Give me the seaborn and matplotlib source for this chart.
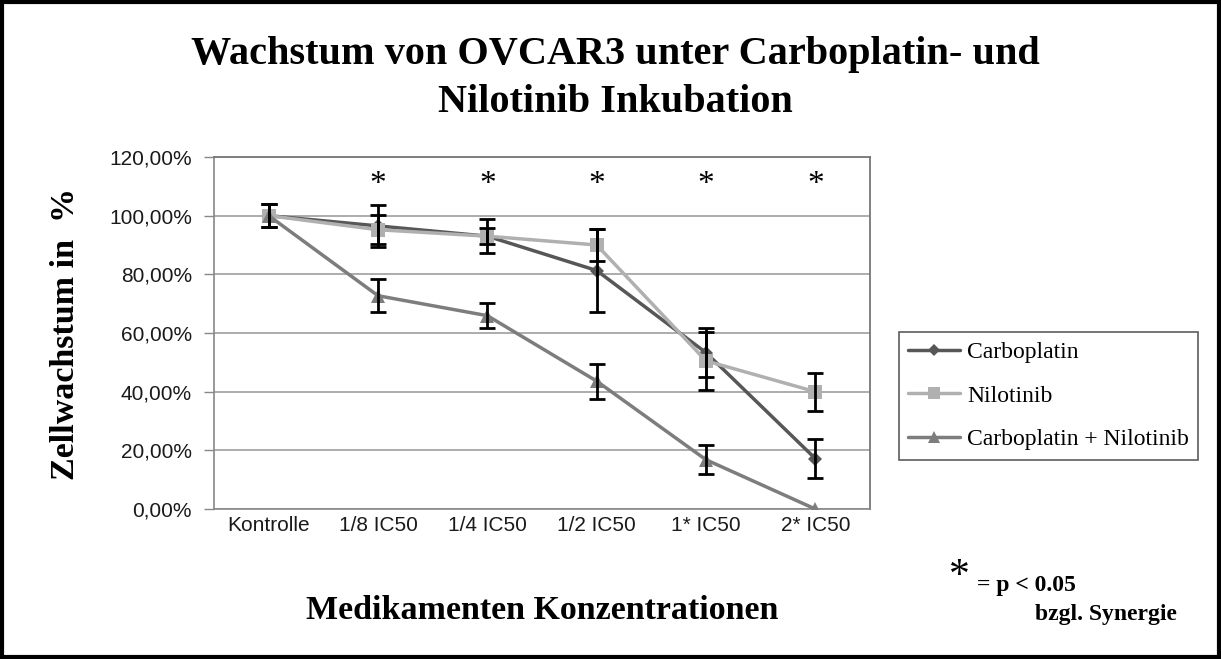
import numpy as np
import pandas as pd
import matplotlib
matplotlib.use("Agg")
import matplotlib.pyplot as plt
import seaborn as sns
from matplotlib.patches import Rectangle

categories = ["Kontrolle", "1/8 IC50", "1/4 IC50", "1/2 IC50", "1* IC50", "2* IC50"]
carbo = [100.0, 96.5, 93.0, 81.3, 53.3, 17.2]
carbo_err = [4.0, 7.2, 5.7, 14.0, 8.4, 6.5]
nilo = [100.0, 95.2, 93.0, 90.0, 50.5, 40.0]
nilo_err = [4.0, 5.0, 2.8, 5.5, 10.0, 6.5]
combo = [100.0, 72.7, 65.9, 43.6, 16.8, 0.0]
combo_err = [4.0, 5.7, 4.3, 6.0, 5.0, 0.0]
series_names = ["Carboplatin", "Nilotinib", "Carboplatin + Nilotinib"]
yticks = [0, 20, 40, 60, 80, 100, 120]
sig_positions = ["1/8 IC50", "1/4 IC50", "1/2 IC50", "1* IC50", "2* IC50"]

sns.set_theme(style="white")
plt.rcParams['font.family'] = ['Liberation Sans', 'DejaVu Sans']
plt.rcParams['text.color'] = 'black'

rows = []
for name, vals in zip(series_names, [carbo, nilo, combo]):
    for i, v in enumerate(vals):
        rows.append({"Konz": i, "Wert": v, "Serie": name})
df = pd.DataFrame(rows)

colors = {"Carboplatin": "#575757", "Nilotinib": "#b0b0b0", "Carboplatin + Nilotinib": "#7d7d7d"}
markers = {"Carboplatin": "D", "Nilotinib": "s", "Carboplatin + Nilotinib": "^"}
msizes = {"Carboplatin": 7, "Nilotinib": 10, "Carboplatin + Nilotinib": 10}

fig = plt.figure(figsize=(12.21, 6.59), dpi=100)
ax = fig.add_axes([0.1753, 0.2276, 0.7125 - 0.1753, 0.7618 - 0.2276])

x = np.arange(len(categories))
errs = {"Carboplatin": carbo_err, "Nilotinib": nilo_err, "Carboplatin + Nilotinib": combo_err}
vals_d = {"Carboplatin": carbo, "Nilotinib": nilo, "Carboplatin + Nilotinib": combo}

for name in series_names:
    sub = df[df["Serie"] == name]
    sns.lineplot(data=sub, x="Konz", y="Wert", ax=ax, color=colors[name], linewidth=2.5,
                 marker=markers[name], markersize=msizes[name], markeredgewidth=0,
                 label=name, zorder=3, legend=False)
for name in series_names:
    e = np.array(errs[name])
    mask = e > 0
    ax.errorbar(x[mask], np.array(vals_d[name])[mask], yerr=e[mask], fmt="none", ecolor="black",
                elinewidth=2, capsize=6, capthick=2, zorder=4)

ax.set_xlim(-0.5, len(categories) - 0.5)
ax.set_ylim(0, 120)
ax.set_yticks(yticks)
ax.set_yticklabels([f"{v},00%" for v in yticks], fontsize=15, color="#1a1a1a")
ax.set_xticks(x)
ax.set_xticklabels(categories, fontsize=15, color="#1a1a1a")
ax.yaxis.grid(True, color="#a6a6a6", linewidth=1.3)
ax.set_axisbelow(True)
ax.tick_params(axis="y", which="both", left=True, length=7, color="#888888", width=1, pad=9)
ax.tick_params(axis="x", length=0, pad=5)
for s in ["left", "bottom"]:
    ax.spines[s].set_color("#888888")
    ax.spines[s].set_linewidth(1.2)
for s in ["top", "right"]:
    ax.spines[s].set_color("#777777")
    ax.spines[s].set_linewidth(1.3)
ax.set_xlabel("")
ax.set_ylabel("")

for c in sig_positions:
    ax.text(categories.index(c), 110.5, "*", ha="center", va="center", fontsize=24,
            family="Liberation Serif")

serif = ["Liberation Serif", "DejaVu Serif"]
fig.text(0.504, 0.917, "Wachstum von OVCAR3 unter Carboplatin- und", ha="center", va="center",
         fontsize=29, fontweight="bold", family=serif)
fig.text(0.504, 0.845, "Nilotinib Inkubation", ha="center", va="center",
         fontsize=29, fontweight="bold", family=serif)
fig.text(0.054, 0.493, "Zellwachstum in  %", rotation=90, ha="center", va="center",
         fontsize=24.5, fontweight="bold", family=serif)
fig.text(0.444, 0.074, "Medikamenten Konzentrationen", ha="center", va="center",
         fontsize=24.5, fontweight="bold", family=serif)

handles = [plt.Line2D([], [], color=colors[n], marker=markers[n], linewidth=2.5,
                      markersize=msizes[n] - 1, markeredgewidth=0) for n in series_names]
leg = fig.legend(handles, series_names, loc="upper left", bbox_to_anchor=(0.736, 0.496),
                 prop={"family": serif, "size": 17}, frameon=True, fancybox=False,
                 edgecolor="#333333", handlelength=2.2, handletextpad=0.3, labelspacing=0.93,
                 borderpad=0.4, borderaxespad=0)
leg.get_frame().set_linewidth(1.2)

fig.text(0.7855, 0.125, "*", ha="center", va="center", fontsize=30, family=serif)
fig.text(0.800, 0.112, "= p < 0.05", ha="left", va="center", fontsize=17, fontweight="bold", family=serif)
fig.text(0.848, 0.068, "bzgl. Synergie", ha="left", va="center", fontsize=17, fontweight="bold", family=serif)

fig.patches.append(Rectangle((0.002, 0.003), 0.996, 0.994, transform=fig.transFigure,
                             fill=False, edgecolor="black", linewidth=3))

fig.savefig("out.png", dpi=100, facecolor="white")
